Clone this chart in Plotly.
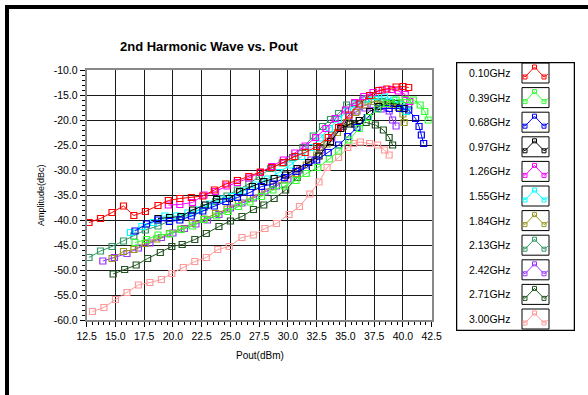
import plotly.graph_objects as go

W, H = 588, 395

series_names = ["0.10GHz", "0.39GHz", "0.68GHz", "0.97GHz", "1.26GHz", "1.55GHz",
                "1.84GHz", "2.13GHz", "2.42GHz", "2.71GHz", "3.00GHz"]
series_colors = ["#FF0000", "#33FF33", "#0000FF", "#000000", "#FF00FF", "#00FFFF",
                 "#999922", "#339966", "#9933FF", "#225522", "#FF9999"]

x_010 = [12.7, 13.7, 14.7, 15.7, 16.6, 17.6, 18.7, 19.6, 20.6, 21.6, 22.6, 23.6, 24.6, 25.6, 26.6, 27.6,
         28.6, 29.6, 30.6, 31.5, 32.5, 33.5, 34.4, 35.3, 36.2, 37.1, 37.9, 38.6, 39.4, 40.0, 40.5]
y_010 = [-40.5, -39.7, -38.5, -37.2, -39.1, -38.3, -37.1, -36.1, -35.7, -35.5, -35.2, -34.0, -32.8, -32.1,
         -31.3, -30.4, -29.5, -28.5, -27.3, -26.5, -25.3, -23.5, -21.5, -19.0, -16.8, -15.1, -14.1, -13.8,
         -13.4, -13.3, -13.5]

x_039 = [16.7, 17.7, 18.7, 19.7, 20.7, 21.7, 22.7, 23.8, 24.8, 25.7, 26.7, 27.7, 28.7, 29.7, 30.7, 31.6,
         32.6, 33.6, 34.4, 35.3, 36.2, 37.0, 37.8, 38.6, 39.4, 40.2, 40.9, 41.5, 41.9, 42.2]
y_039 = [-44.5, -43.9, -43.0, -42.8, -41.9, -41.2, -39.9, -39.2, -38.3, -37.3, -36.4, -35.3, -34.0, -33.2,
         -32.1, -30.7, -29.5, -27.8, -26.2, -24.0, -21.7, -19.5, -17.8, -16.7, -16.0, -15.9, -16.0, -17.0,
         -18.3, -20.0]

x_068 = [16.7, 17.7, 18.7, 19.7, 20.6, 21.6, 22.6, 23.6, 24.6, 25.6, 26.7, 27.7, 28.7, 29.7, 30.7, 31.6,
         32.5, 33.5, 34.4, 35.2, 36.0, 36.9, 37.8, 38.8, 39.7, 40.5, 41.1, 41.4, 41.6, 41.8]
y_068 = [-42.2, -40.8, -40.0, -40.3, -40.0, -39.2, -38.2, -37.2, -36.3, -35.5, -34.5, -33.3, -32.8, -31.5,
         -30.3, -29.5, -28.0, -26.5, -25.0, -23.3, -21.5, -19.5, -17.7, -17.7, -17.7, -18.0, -19.7, -21.3,
         -23.0, -24.7]

x_097 = [18.7, 19.7, 20.7, 21.7, 22.8, 23.8, 24.9, 25.8, 26.9, 27.9, 28.8, 29.8, 30.8, 31.8, 32.7, 33.7,
         34.6, 35.4, 36.2, 37.1, 37.9, 38.7, 39.4, 40.1]
y_097 = [-39.7, -39.5, -39.3, -38.0, -37.0, -35.9, -35.7, -34.3, -33.3, -32.3, -31.7, -31.0, -29.7, -28.5,
         -27.2, -24.3, -21.7, -20.8, -20.1, -18.3, -17.3, -16.7, -16.7, -17.7]

x_126 = [19.6, 20.6, 21.7, 22.7, 23.7, 24.7, 25.6, 26.6, 27.6, 28.6, 29.6, 30.6, 31.5, 32.4, 33.3, 34.1,
         35.0, 35.8, 36.6, 37.4, 38.2, 39.0, 39.6, 40.2, 40.6]
y_126 = [-37.0, -36.9, -36.5, -35.0, -34.3, -33.2, -32.5, -31.6, -30.5, -29.3, -28.0, -26.6, -25.2, -23.5,
         -21.7, -19.7, -18.0, -16.5, -15.3, -14.5, -14.0, -13.9, -14.2, -14.9, -16.3]

x_155 = [16.3, 17.3, 18.3, 19.3, 20.3, 21.3, 22.3, 23.2, 24.2, 25.2, 26.2, 27.2, 28.2, 29.2, 30.2, 31.2,
         32.0, 32.8, 33.6, 34.4, 35.2, 36.0, 36.8, 37.6, 38.4, 39.2, 39.8, 40.3]
y_155 = [-42.5, -41.3, -40.5, -39.2, -39.2, -38.6, -38.0, -36.8, -35.8, -35.3, -34.2, -33.0, -31.8, -30.5,
         -29.0, -27.3, -25.5, -23.6, -21.7, -19.8, -18.2, -16.8, -15.8, -15.3, -15.4, -16.0, -17.0, -18.3]

x_184 = [14.7, 15.7, 16.6, 17.6, 18.6, 19.7, 20.7, 21.7, 22.7, 23.7, 24.7, 25.7, 26.7, 27.7, 28.7, 29.7,
         30.7, 31.6, 32.5, 33.4, 34.3, 35.1, 35.9, 36.7, 37.5, 38.3, 39.0, 39.6, 40.0, 40.1]
y_184 = [-47.7, -46.3, -45.9, -44.7, -43.8, -42.7, -41.8, -40.7, -39.8, -38.7, -37.8, -36.6, -35.7, -34.5,
         -33.3, -32.0, -30.7, -29.0, -27.0, -24.8, -22.5, -20.5, -18.5, -17.0, -16.3, -16.5, -17.0, -17.5,
         -18.8, -20.5]

x_213 = [12.7, 13.7, 14.7, 15.7, 16.6, 17.6, 18.7, 19.7, 20.7, 21.7, 22.7, 23.7, 24.7, 25.6, 26.6, 27.5,
         28.5, 29.5, 30.4, 31.3, 32.2, 33.0, 33.7, 34.4, 35.1, 35.8, 36.5, 37.3, 38.2, 39.0, 39.8, 40.5]
y_213 = [-47.5, -46.2, -45.3, -44.2, -43.2, -42.0, -41.2, -40.2, -39.5, -38.6, -37.5, -36.3, -35.2, -34.0,
         -32.8, -31.3, -29.7, -28.6, -27.5, -25.5, -23.2, -21.3, -19.9, -18.7, -17.0, -16.7, -16.0, -15.8,
         -16.3, -16.5, -16.8, -17.2]

x_242 = [13.9, 14.9, 16.0, 17.0, 18.0, 19.0, 20.0, 21.0, 22.0, 23.0, 24.0, 25.0, 26.0, 27.0, 28.0, 29.0,
         30.0, 31.0, 32.0, 32.9, 33.8, 34.6, 35.3, 36.0, 36.7, 37.4, 38.1, 38.8, 39.1, 39.4]
y_242 = [-48.2, -47.5, -46.7, -45.6, -44.6, -43.5, -42.6, -41.7, -40.8, -40.0, -38.9, -37.6, -36.6, -35.6,
         -34.4, -33.2, -31.8, -30.0, -28.0, -26.0, -23.6, -21.3, -19.3, -18.2, -17.6, -17.5, -17.8, -18.2,
         -20.0, -21.2]

x_271 = [14.8, 15.8, 16.8, 17.8, 18.9, 19.9, 20.8, 21.9, 22.9, 24.0, 25.0, 26.0, 27.0, 27.9, 28.8, 29.8,
         30.8, 31.8, 32.8, 33.8, 34.8, 35.8, 36.8, 37.6, 38.3, 38.8, 39.1]
y_271 = [-50.8, -49.9, -49.0, -47.7, -46.5, -45.3, -44.9, -43.9, -42.7, -41.3, -40.2, -39.3, -37.9, -37.0,
         -35.7, -34.0, -31.5, -28.5, -25.5, -23.0, -21.3, -20.8, -20.5, -21.0, -22.0, -23.5, -25.0]

x_300 = [13.0, 14.0, 15.0, 16.0, 17.0, 18.0, 19.0, 19.9, 20.9, 21.9, 22.9, 23.9, 24.9, 26.0, 27.0, 28.0,
         29.0, 30.1, 31.0, 31.9, 32.7, 33.4, 34.4, 35.2, 35.7, 36.3, 37.1, 37.8, 38.4, 38.8]
y_300 = [-58.3, -57.5, -55.9, -54.5, -53.0, -52.5, -51.9, -50.7, -49.5, -48.3, -47.5, -45.9, -45.3, -43.5,
         -43.0, -41.7, -40.7, -38.9, -37.3, -34.8, -32.4, -29.5, -27.5, -25.5, -24.7, -24.4, -24.7, -25.0,
         -26.0, -27.0]

series_x = [x_010, x_039, x_068, x_097, x_126, x_155, x_184, x_213, x_242, x_271, x_300]
series_y = [y_010, y_039, y_068, y_097, y_126, y_155, y_184, y_213, y_242, y_271, y_300]

x_ticks = [12.5, 15.0, 17.5, 20.0, 22.5, 25.0, 27.5, 30.0, 32.5, 35.0, 37.5, 40.0, 42.5]
y_ticks = [-10.0, -15.0, -20.0, -25.0, -30.0, -35.0, -40.0, -45.0, -50.0, -55.0, -60.0]

FONT = "Liberation Sans, Arial, sans-serif"

fig = go.Figure()

# draw order: later series on top (red on top)
for i in reversed(range(len(series_names))):
    fig.add_trace(go.Scatter(
        x=series_x[i], y=series_y[i], mode="lines+markers", name=series_names[i],
        line=dict(color=series_colors[i], width=1),
        marker=dict(symbol="square-open", size=6, color=series_colors[i], line=dict(width=1.2)),
        showlegend=False, xaxis="x", yaxis="y"))

# plot area in pixels
PL, PR, PT, PB = 86.7, 431.7, 70.0, 320.0

# legend panel (drawn on its own pixel-unit axes)
LG_L, LG_R, LG_T, LG_B = 456.0, 575.0, 62.0, 331.0
row_step = 24.6
shapes = []
annotations = []
for i, name in enumerate(series_names):
    top = 63.0 + row_step * i
    cy = top + 10
    annotations.append(dict(x=512, y=cy, xref="x2", yref="y2", text=name, showarrow=False,
                            xanchor="right", yanchor="middle",
                            font=dict(family=FONT, size=10.5, color="#000")))
    shapes.append(dict(type="rect", xref="x2", yref="y2", x0=522, x1=549, y0=top, y1=top + 20,
                       line=dict(color="#000", width=1), fillcolor="white", layer="below"))
    fig.add_trace(go.Scatter(
        x=[522.5, 525, 534.5, 544, 548], y=[top + 12, top + 14, top + 4, top + 14, top + 11],
        mode="lines", line=dict(color=series_colors[i], width=1), showlegend=False,
        xaxis="x2", yaxis="y2", hoverinfo="skip"))
    fig.add_trace(go.Scatter(
        x=[525, 534.5, 544], y=[top + 14, top + 4, top + 14],
        mode="markers", marker=dict(symbol="square-open", size=4, color=series_colors[i],
                                    line=dict(width=1)),
        showlegend=False, xaxis="x2", yaxis="y2", hoverinfo="skip"))

shapes.append(dict(type="rect", xref="x2", yref="y2", x0=LG_L, x1=LG_R, y0=LG_T, y1=LG_B,
                   line=dict(color="#000", width=2.5), layer="below"))
# outer frame: top and left edges only are visible in the window
shapes.append(dict(type="line", xref="paper", yref="paper", x0=5 / W, x1=1.0, y0=1 - 7 / H, y1=1 - 7 / H,
                   line=dict(color="#000", width=4), layer="below"))
shapes.append(dict(type="line", xref="paper", yref="paper", x0=7 / W, x1=7 / W, y0=1 - 5 / H, y1=0.0,
                   line=dict(color="#000", width=4), layer="below"))

annotations.append(dict(x=209 / W, y=1 - 47 / H, xref="paper", yref="paper",
                        text="<b>2nd Harmonic Wave vs. Pout</b>", showarrow=False,
                        xanchor="center", yanchor="middle",
                        font=dict(family=FONT, size=13, color="#000")))
annotations.append(dict(x=41 / W, y=1 - 195 / H, xref="paper", yref="paper",
                        text="Amplitude(dBc)", showarrow=False, textangle=-90,
                        xanchor="center", yanchor="middle",
                        font=dict(family=FONT, size=9, color="#000")))
annotations.append(dict(x=260 / W, y=1 - 355 / H, xref="paper", yref="paper",
                        text="Pout(dBm)", showarrow=False,
                        xanchor="center", yanchor="middle",
                        font=dict(family=FONT, size=10, color="#000")))

fig.update_layout(
    width=W, height=H, margin=dict(l=0, r=0, t=0, b=0, autoexpand=False),
    paper_bgcolor="white", plot_bgcolor="white", showlegend=False,
    xaxis=dict(domain=[PL / W, PR / W], range=[12.5, 42.5], tickmode="array",
               tickvals=x_ticks, ticktext=[f"{v:.1f}" for v in x_ticks],
               showgrid=True, gridcolor="#1a1a1a", gridwidth=1,
               showline=True, linecolor="#888", linewidth=2, mirror=True,
               ticks="outside", ticklen=5, tickcolor="#000", tickwidth=1,
               minor=dict(dtick=0.5, ticks="outside", ticklen=3, tickcolor="#000", showgrid=False),
               tickfont=dict(family=FONT, size=10.5, color="#000"), zeroline=False, fixedrange=True),
    yaxis=dict(domain=[1 - PB / H, 1 - PT / H], range=[-60, -10], tickmode="array",
               tickvals=y_ticks, ticktext=[f"{v:.1f}" for v in y_ticks],
               showgrid=True, gridcolor="#1a1a1a", gridwidth=1,
               showline=True, linecolor="#888", linewidth=2, mirror=True,
               ticks="outside", ticklen=5, tickcolor="#000", tickwidth=1,
               minor=dict(dtick=1, ticks="outside", ticklen=3, tickcolor="#000", showgrid=False),
               tickfont=dict(family=FONT, size=10.5, color="#000"), zeroline=False, fixedrange=True),
    xaxis2=dict(domain=[LG_L / W, LG_R / W], range=[LG_L, LG_R], visible=False, anchor="y2",
                fixedrange=True),
    yaxis2=dict(domain=[1 - LG_B / H, 1 - LG_T / H], range=[LG_B, LG_T], visible=False, anchor="x2",
                fixedrange=True),
    shapes=shapes, annotations=annotations,
)

fig.write_html("out.html")
